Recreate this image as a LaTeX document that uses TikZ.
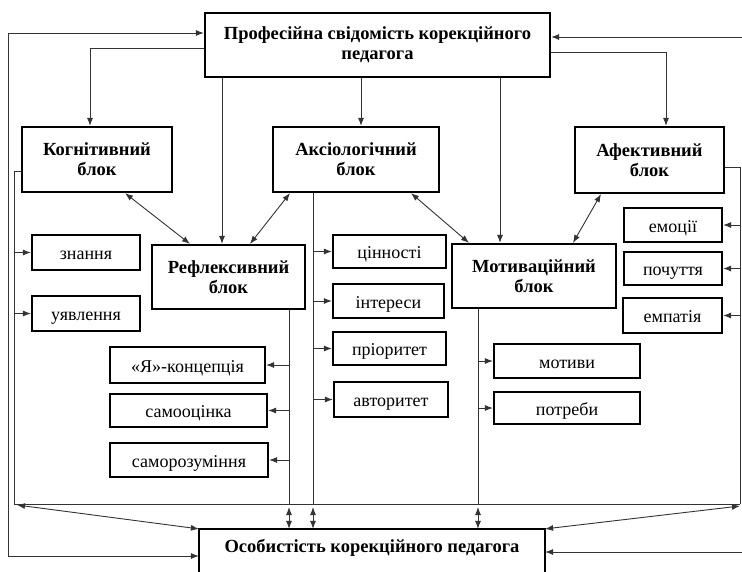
\documentclass[tikz,border=0pt]{standalone}
\usepackage{fontspec}
\setmainfont{Liberation Serif}
\usetikzlibrary{arrows.meta}
\begin{document}
\begin{tikzpicture}[x=1pt,y=-1pt,
  blk/.style={draw, line width=2.2pt, align=center, inner sep=0pt, font=\fontsize{18.5}{20}\selectfont\bfseries},
  itm/.style={draw, line width=2.2pt, inner sep=0pt, text height=14pt, text depth=0pt, font=\fontsize{18}{20}\selectfont},
  con/.style={draw=black!80, line width=0.9pt},
  arr/.style={con, -{Latex[length=8pt,width=6pt]}},
  darr/.style={con, {Latex[length=8pt,width=6pt]}-{Latex[length=8pt,width=6pt]}}]
\useasboundingbox (0,0) rectangle (742,571);
\fill[white] (0,0) rectangle (742,571);
% main blocks
\node[blk, minimum width=345, minimum height=64] (top) at (377.5,45) {Професійна свідомість корекційного\\педагога};
\node[blk, minimum width=150, minimum height=65] (kog) at (97,159.5) {Когнітивний\\блок};
\node[blk, minimum width=166, minimum height=65] (aks) at (356,159.5) {Аксіологічний\\блок};
\node[blk, minimum width=149, minimum height=66] (afe) at (649.5,160) {Афективний\\блок};
\node[blk, minimum width=153, minimum height=64] (ref) at (228.5,277) {Рефлексивний\\блок};
\node[blk, minimum width=164, minimum height=64] (mot) at (534,276) {Мотиваційний\\блок};
\node[blk, draw=none, minimum width=344, minimum height=36] (bot) at (372,548) {Особистість корекційного педагога};
\draw[line width=2.2pt] (bot.north west) rectangle ([yshift=-40pt]bot.south east);
% items
\node[itm, minimum width=108, minimum height=35] (znan) at (86,252.5) {знання};
\node[itm, minimum width=108, minimum height=35] (uyav) at (86,313.5) {уявлення};
\node[itm, minimum width=155, minimum height=36] (yakon) at (187.5,365) {«Я»-концепція};
\node[itm, minimum width=157, minimum height=33] (samooc) at (188.5,410.5) {самооцінка};
\node[itm, minimum width=158, minimum height=34] (samoroz) at (189,460) {саморозуміння};
\node[itm, minimum width=113, minimum height=33] (cinn) at (389.5,251.5) {цінності};
\node[itm, minimum width=111, minimum height=34] (inter) at (388.5,301) {інтереси};
\node[itm, minimum width=113, minimum height=33] (prior) at (389.5,348.5) {пріоритет};
\node[itm, minimum width=114, minimum height=35] (avtor) at (391,399.5) {авторитет};
\node[itm, minimum width=146, minimum height=34] (motyv) at (567,361) {мотиви};
\node[itm, minimum width=146, minimum height=32] (potr) at (567,408) {потреби};
\node[itm, minimum width=98, minimum height=34] (emoc) at (673,225) {емоції};
\node[itm, minimum width=98, minimum height=33] (poch) at (673,268.5) {почуття};
\node[itm, minimum width=99, minimum height=35] (empat) at (672.5,315.5) {емпатія};
% bus coordinates
\coordinate (lbus) at (14,504);
\coordinate (rbus) at (740,504);
\coordinate (rl) at (289,504);
\coordinate (al) at (313,504);
\coordinate (ml) at (478,504);
% top to blocks
\draw[arr] (top.west |- 0,48) -| (kog.north -| 90,0);
\draw[arr] (top.south -| 361,0) -- (aks.north -| 361,0);
\draw[arr] (top.south -| 222,0) -- (ref.north -| 222,0);
\draw[arr] (top.south -| 500,0) -- (mot.north -| 500,0);
\draw[arr] (top.east |- 0,52) -| (afe.north -| 666,0);
% block interconnections
\draw[darr] (kog.south -| 125,0) -- (ref.north -| 190,0);
\draw[darr] (aks.south -| 290,0) -- (ref.north -| 250,0);
\draw[darr] (aks.south -| 411,0) -- (mot.north -| 469,0);
\draw[darr] (afe.south -| 601,0) -- (mot.north -| 573,0);
% outer loops
\draw[darr] (bot.west |- 0,556) -| (8,33) -- (top.west |- 0,33);
\draw[darr] (top.east |- 0,37) -| (748,552) -- (bot.east |- 0,552);
% horizontal bus
\draw[con] (lbus) -- (rbus);
% cognitive
\draw[con] (kog.west |- 0,171) -| (lbus);
\draw[arr] (lbus |- znan.west) -- (znan.west);
\draw[arr] (lbus |- uyav.west) -- (uyav.west);
% affective
\draw[con] (afe.east |- 0,167) -| (rbus);
\draw[arr] (rbus |- emoc.east) -- (emoc.east);
\draw[arr] (rbus |- poch.east) -- (poch.east);
\draw[arr] (rbus |- empat.east) -- (empat.east);
% reflexive
\draw[con] (ref.south -| rl) -- (rl);
\draw[arr] (rl |- yakon.east) -- (yakon.east);
\draw[arr] (rl |- samooc.east) -- (samooc.east);
\draw[arr] (rl |- samoroz.east) -- (samoroz.east);
% axiological
\draw[con] (aks.south -| al) -- (al);
\draw[arr] (al |- cinn.west) -- (cinn.west);
\draw[arr] (al |- inter.west) -- (inter.west);
\draw[arr] (al |- prior.west) -- (prior.west);
\draw[arr] (al |- avtor.west) -- (avtor.west);
% motivational
\draw[con] (mot.south -| ml) -- (ml);
\draw[arr] (ml |- motyv.west) -- (motyv.west);
\draw[arr] (ml |- potr.west) -- (potr.west);
% links to personality
\draw[darr] ([yshift=-3pt]rl) -- (bot.north -| rl);
\draw[darr] ([yshift=-3pt]al) -- (bot.north -| al);
\draw[darr] ([yshift=-3pt]ml) -- (bot.north -| ml);
\draw[darr] ([xshift=3pt,yshift=-1pt]lbus) -- (bot.north west);
\draw[darr] ([yshift=-2pt]rbus) -- (bot.north east);
\end{tikzpicture}
\end{document}
